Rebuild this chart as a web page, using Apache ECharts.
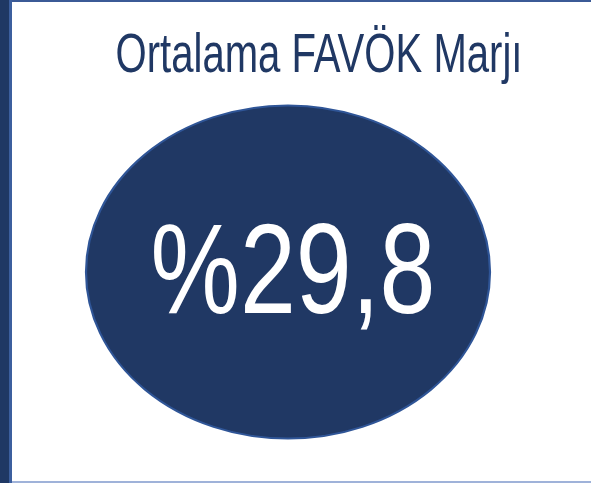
<!DOCTYPE html>
<html>
<head>
<meta charset="utf-8">
<script src="https://cdn.jsdelivr.net/npm/echarts@6/dist/echarts.min.js"></script>
<style>
  html, body { margin: 0; padding: 0; background: #fff; }
  #chart { width: 591px; height: 483px; }
</style>
</head>
<body>
<div id="chart"></div>
<script>
// KPI data
const titles = ['Ortalama FAVÖK Marjı'];
const values = [29.8];

const navy = '#203864';
const edge = '#2f5597';
const font = '"Liberation Sans", Arial, sans-serif';

// turkish style: percent sign first, comma decimal
const formatPct = v => '%' + String(v).replace('.', ',');

const chart = echarts.init(document.getElementById('chart'));

const option = {
  backgroundColor: '#fff',
  animation: false,
  grid: { left: 85, right: 100, top: 105, bottom: 44 },
  xAxis: { type: 'category', data: titles, show: false },
  yAxis: { type: 'value', min: 0, max: values[0] * 2, show: false },
  series: [{
    type: 'scatter',
    data: values,
    symbol: 'circle',
    symbolSize: [404, 333],
    itemStyle: { color: navy, borderColor: edge, borderWidth: 2, opacity: 1 },
    emphasis: { disabled: true }
  }],
  graphic: [
    // frame on the left, top and bottom
    { id: 'band', type: 'rect', shape: { x: 0, y: 0, width: 9, height: 483 }, style: { fill: '#1f3864' }, silent: true },
    { id: 'bandEdge', type: 'rect', shape: { x: 9, y: 0, width: 3, height: 483 }, style: { fill: '#3c5f9e' }, silent: true },
    { id: 'topLine', type: 'rect', shape: { x: 12, y: 0, width: 579, height: 2 }, style: { fill: '#3b5a96' }, silent: true },
    { id: 'bottomLine', type: 'rect', shape: { x: 12, y: 481, width: 579, height: 2 }, style: { fill: '#9fb2d9' }, silent: true },
    {
      id: 'title',
      type: 'text',
      x: 319, y: 85,
      scaleX: 0.716,
      style: {
        text: titles[0],
        fill: navy,
        font: '56px ' + font,
        textAlign: 'center',
        textVerticalAlign: 'bottom'
      },
      silent: true
    }
  ]
};

chart.setOption(option);

// the big number sits on the point, narrowed like the original font
const pt = chart.convertToPixel({ seriesIndex: 0 }, [0, values[0]]);
chart.setOption({
  graphic: [{
    id: 'kpi',
    type: 'text',
    z: 100,
    x: pt[0] + 5, y: pt[1] + 6,
    scaleX: 0.785,
    style: {
      text: formatPct(values[0]),
      fill: '#fff',
      font: '128px ' + font,
      textAlign: 'center',
      textVerticalAlign: 'middle'
    },
    silent: true
  }]
});
</script>
</body>
</html>
